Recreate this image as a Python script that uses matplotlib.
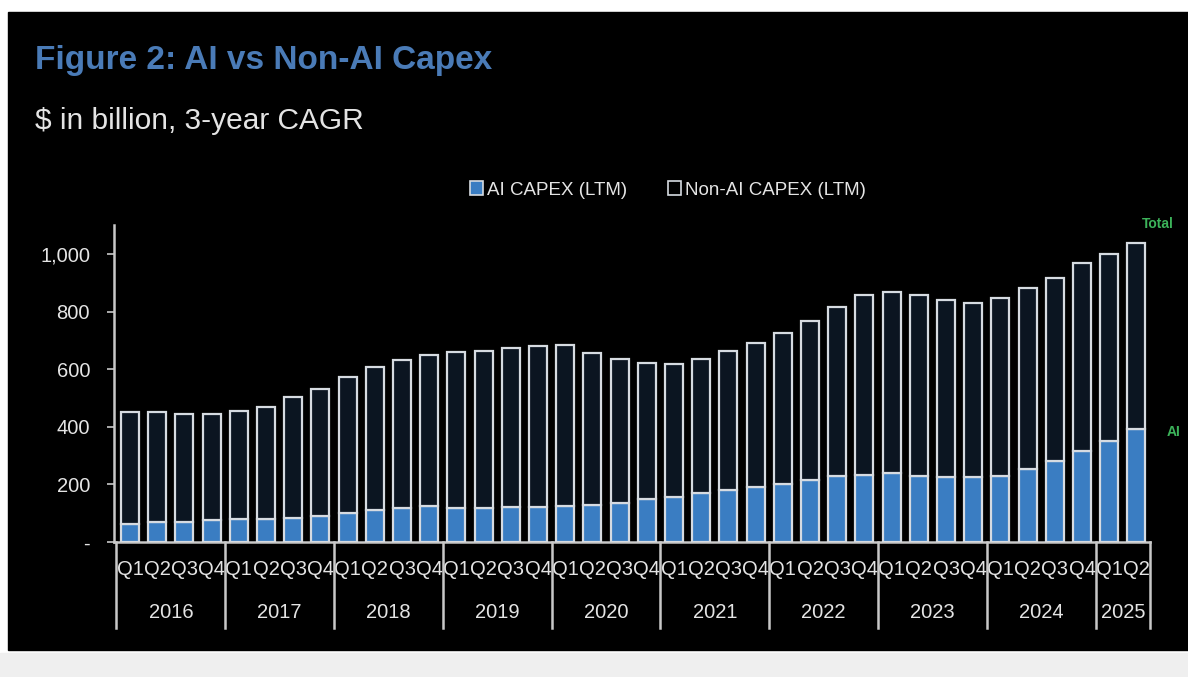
import numpy as np
import matplotlib
matplotlib.use("Agg")
import matplotlib.pyplot as plt
from matplotlib.patches import Patch, Rectangle
import matplotlib.transforms as mtransforms

# --- data ($bn, LTM) ---
years = ["2016", "2017", "2018", "2019", "2020", "2021", "2022", "2023", "2024", "2025"]
quarters_per_year = [4, 4, 4, 4, 4, 4, 4, 4, 4, 2]
quarter_labels = ["Q1", "Q2", "Q3", "Q4"]

total_capex = [452, 450, 444, 443,
               455, 470, 503, 531,
               574, 606, 632, 650,
               658, 664, 672, 680,
               684, 657, 636, 623,
               617, 636, 663, 690,
               725, 767, 815, 857,
               869, 857, 840, 829,
               848, 881, 918, 970,
               999, 1037]
ai_capex = [62, 69, 70, 76,
            79, 79, 83, 92,
            100, 111, 117, 125,
            118, 117, 120, 120,
            125, 128, 134, 148,
            157, 169, 180, 192,
            201, 216, 228, 233,
            238, 230, 227, 225,
            230, 252, 282, 316,
            351, 391]
non_ai_capex = [t - a for t, a in zip(total_capex, ai_capex)]

FONT = ["Liberation Sans Narrow", "Liberation Sans", "DejaVu Sans"]
plt.rcParams["font.family"] = FONT

BG = "#000000"
AI_COLOR = "#3a7dc2"
NONAI_COLOR = "#0b1521"
EDGE = "#d6dbe1"
TEXT = "#e4e4e4"
AXIS = "#c8c8c8"
GREEN = "#3cb35a"

W, H = 1188, 677
fig = plt.figure(figsize=(W / 100, H / 100), dpi=100, facecolor="white")

# black panel + light strip at the bottom (screenshot look)
fig.patches.append(Rectangle((8 / W, 1 - 650 / H), 1 - 8 / W, (650 - 12) / H,
                             transform=fig.transFigure, color=BG, zorder=-10))
fig.patches.append(Rectangle((0, 0), 1, 1 - 653 / H,
                             transform=fig.transFigure, color="#efefef", zorder=-10))

ax = fig.add_axes([113.7 / W, 1 - 542 / H, (1150 - 113.7) / W, 316.8 / H])
ax.set_facecolor(BG)

x = np.arange(len(total_capex))
bw = 0.66
ax.bar(x, ai_capex, width=bw, color=AI_COLOR, edgecolor=EDGE, linewidth=1.6, zorder=3)
ax.bar(x, non_ai_capex, width=bw, bottom=ai_capex, color=NONAI_COLOR,
       edgecolor=EDGE, linewidth=1.6, zorder=3)

ax.set_xlim(-0.6, len(x) - 0.5)
ax.set_ylim(0, 1100)
ax.set_yticks([0, 200, 400, 600, 800, 1000])
ax.set_yticklabels(["-", "200", "400", "600", "800", "1,000"])
ax.tick_params(axis="y", colors=AXIS, labelsize=14.5, length=5, width=1.2, pad=12)
for lab in ax.get_yticklabels():
    lab.set_color(TEXT)
ax.set_xticks([])

for side in ["top", "right"]:
    ax.spines[side].set_visible(False)
for side in ["left", "bottom"]:
    ax.spines[side].set_color(AXIS)
    ax.spines[side].set_linewidth(1.8)

# quarter and year labels with dividers
trans = mtransforms.blended_transform_factory(ax.transData, ax.transAxes)
pos = 0
dividers = [-0.5]
for yr, n in zip(years, quarters_per_year):
    for q in range(n):
        ax.text(pos + q, -0.088, quarter_labels[q], transform=trans, ha="center",
                va="center", color=TEXT, fontsize=14.5)
    ax.text(pos + (n - 1) / 2, -0.221, yr, transform=trans, ha="center",
            va="center", color=TEXT, fontsize=14.5)
    pos += n
    dividers.append(pos - 0.5)
for d in dividers:
    ax.plot([d, d], [0, -0.27], transform=trans, color=AXIS, lw=1.8,
            clip_on=False, zorder=4)

# titles
fig.text(35 / W, 1 - 60 / H, "Figure 2: AI vs Non-AI Capex", color="#4a7bb7",
         fontsize=24, fontweight="bold", ha="left", va="center",
         family=["Liberation Sans", "DejaVu Sans"])
fig.text(35 / W, 1 - 121 / H, "$ in billion, 3-year CAGR", color=TEXT,
         fontsize=21.5, ha="left", va="center", family=["Liberation Sans", "DejaVu Sans"])

# legend
handles = [Patch(facecolor=AI_COLOR, edgecolor=EDGE, linewidth=1.2, label="AI CAPEX (LTM)"),
           Patch(facecolor=BG, edgecolor=EDGE, linewidth=1.2, label="Non-AI CAPEX (LTM)")]
leg = fig.legend(handles=handles, loc="center", bbox_to_anchor=(668 / W, 1 - 190 / H),
                 ncol=2, frameon=False, fontsize=13.5, handlelength=0.7,
                 handleheight=0.7, handletextpad=0.2, columnspacing=2.2)
for t in leg.get_texts():
    t.set_color(TEXT)

# right-side series labels (only the visible part is shown in the source)
fig.text(1142 / W, 1 - 224 / H, "Total", color=GREEN, fontsize=10,
         fontweight="bold", ha="left", va="center", family=["Liberation Sans", "DejaVu Sans"])
fig.text(1167 / W, 1 - 432 / H, "AI", color=GREEN, fontsize=10,
         fontweight="bold", ha="left", va="center", family=["Liberation Sans", "DejaVu Sans"])

fig.savefig("out.png", dpi=100, facecolor=fig.get_facecolor())
